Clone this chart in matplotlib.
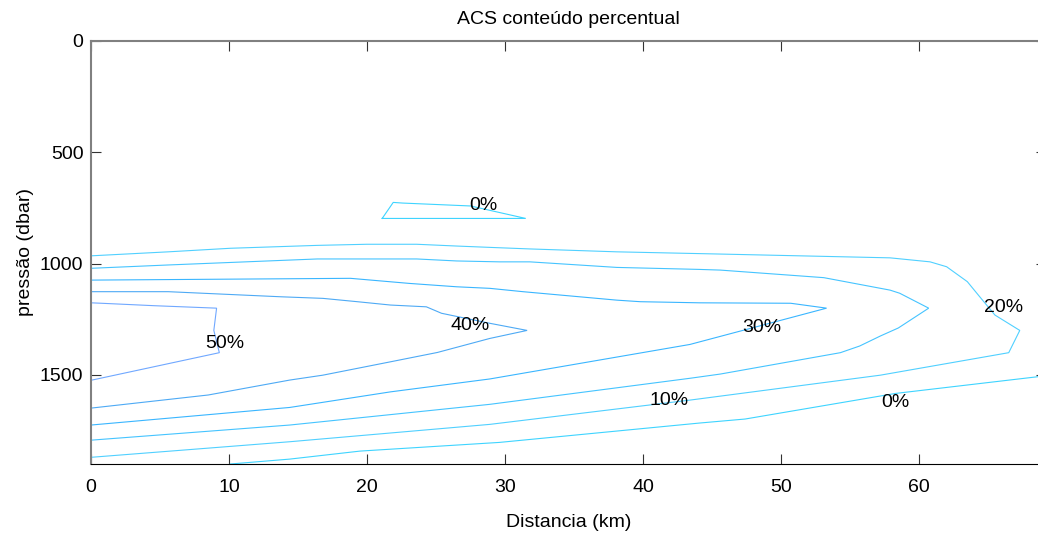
import matplotlib
matplotlib.use("Agg")
import matplotlib.pyplot as plt

# ---------------- data ----------------
title = "ACS conteúdo percentual"
xlabel = "Distancia (km)"
ylabel = "pressão (dbar)"
xticks = [0, 10, 20, 30, 40, 50, 60]
yticks = [0, 500, 1000, 1500]
x_max = 69.2
p_max = 1900

# contour polylines: distance (km) / pressure (dbar)
outer_km = [0, 5.6, 10.1, 16.4, 20.0, 23.6, 26.5, 28.9, 31.8, 38.1, 45.6, 57.9, 60.8,
            62.0, 63.5, 64.4, 65.5, 67.3, 66.5, 57.2, 43.4, 28.9, 14.4, 0]
outer_db = [965, 947, 931, 918, 913, 913, 921, 927, 934, 947, 957, 974, 992,
            1014, 1081, 1149, 1231, 1300, 1400, 1501, 1613, 1722, 1800, 1870]

c20_km = [0, 5.6, 14.4, 16.4, 23.6, 26.5, 29.6, 31.8, 38.1, 44.1, 45.6, 53.1, 57.9, 58.6,
          60.7, 58.5, 57.2, 55.7, 54.3, 45.6, 43.4, 28.9, 14.4, 0]
c20_db = [1021, 1006, 984, 979, 979, 988, 992, 992, 1017, 1026, 1029, 1063, 1119, 1133,
          1200, 1289, 1325, 1370, 1400, 1496, 1515, 1632, 1725, 1793]

c30_km = [0, 18.8, 23.1, 26.5, 28.9, 31.3, 38.1, 39.8, 44.1, 50.7, 53.3,
          43.4, 28.9, 21.7, 14.4, 0]
c30_db = [1074, 1066, 1089, 1104, 1111, 1126, 1164, 1171, 1176, 1178, 1200,
          1363, 1518, 1576, 1646, 1725]

c40_km = [0, 5.6, 13.8, 16.8, 19.3, 21.7, 24.3, 25.4, 28.9, 31.6,
          28.9, 25.1, 21.7, 16.8, 14.4, 8.5, 0]
c40_db = [1126, 1126, 1149, 1156, 1171, 1186, 1194, 1223, 1268, 1300,
          1336, 1399, 1441, 1501, 1523, 1590, 1649]

c50_km = [0, 0.75, 4.6, 9.1, 8.9, 9.3, 0]
c50_db = [1176, 1178, 1189, 1200, 1300, 1400, 1524]

c0_deep_km = [10.1, 14.4, 19.5, 29.6, 44.1, 47.4, 58.3, 68.6, 69.2]
c0_deep_db = [1900, 1878, 1842, 1803, 1716, 1698, 1583, 1508, 1503]

c0_top_km = [21.1, 21.9, 22.6, 27.5, 31.5, 21.1]
c0_top_db = [797, 725, 728, 741, 797, 797]

label_text = ["50%", "40%", "30%", "20%", "10%", "0%", "0%"]
label_km = [9.7, 27.5, 48.6, 66.1, 41.9, 58.3, 28.4]
label_db = [1357, 1276, 1289, 1195, 1617, 1626, 741]

# ---------------- style ----------------
plt.rcParams["font.family"] = ["Liberation Sans", "DejaVu Sans"]
FS = 14

fig = plt.figure(figsize=(10.38, 5.35), dpi=100)
ax = fig.add_axes([91 / 1038, 71 / 535, 955 / 1038, 423 / 535])

series = [
    (outer_km, outer_db, "#50d0ff"),
    (c20_km, c20_db, "#45c4ff"),
    (c30_km, c30_db, "#3ab6ff"),
    (c40_km, c40_db, "#4eaaf5"),
    (c50_km, c50_db, "#70a8ff"),
    (c0_deep_km, c0_deep_db, "#3ed4ff"),
    (c0_top_km, c0_top_db, "#3ed4ff"),
]
for xs, ys, col in series:
    ax.plot(xs, ys, color=col, lw=0.8, solid_joinstyle="miter")

for t, x, y in zip(label_text, label_km, label_db):
    ax.text(x, y, t, fontsize=FS, ha="center", va="center", color="black")

ax.set_xlim(0, x_max)
ax.set_ylim(p_max, 0)
ax.set_xticks(xticks)
ax.set_yticks(yticks)
ax.tick_params(axis="both", direction="in", length=7.2, width=0.8, colors="#333333",
               labelsize=FS, labelcolor="black", top=True, right=True)
ax.tick_params(axis="x", pad=10.5)
ax.tick_params(axis="y", pad=5.5)

for side in ["left", "top"]:
    ax.spines[side].set_color("#808080")
    ax.spines[side].set_linewidth(1.5)
ax.spines["bottom"].set_color("black")
ax.spines["bottom"].set_linewidth(0.8)
ax.spines["right"].set_color("#808080")

ax.set_xlabel(xlabel, fontsize=FS, labelpad=13.5)
ax.set_ylabel(ylabel, fontsize=FS, labelpad=4.5)
fig.text(568.5 / 1038, 1 - 24.5 / 535, title, fontsize=FS, ha="center", va="baseline")

fig.savefig("out.png", dpi=100)
